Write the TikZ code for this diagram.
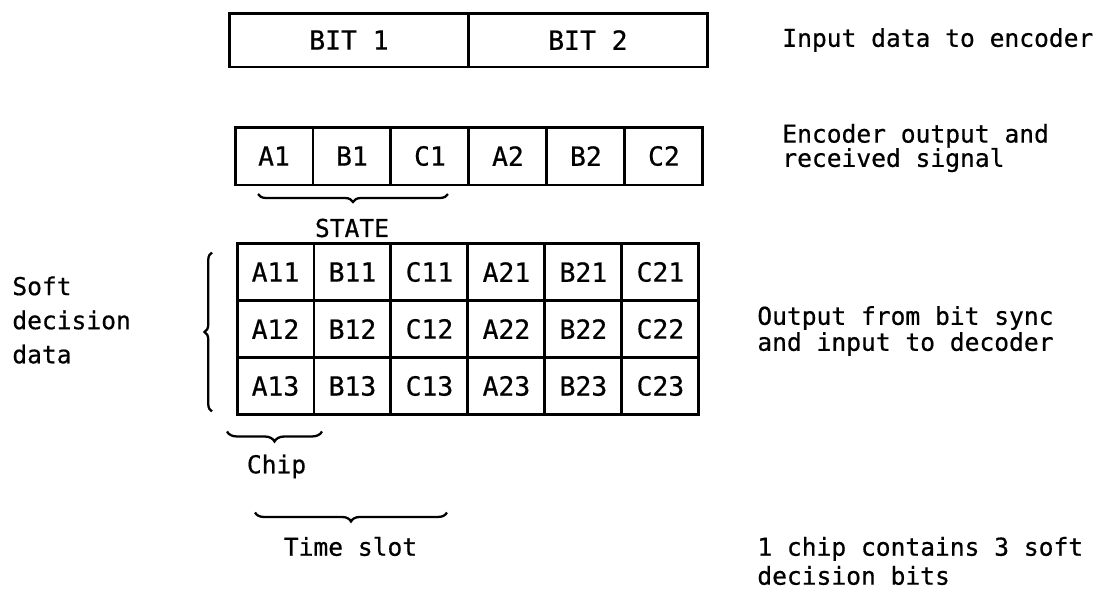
\documentclass[tikz,border=0pt]{standalone}
\usepackage{fontspec}
\setmainfont{DejaVu Sans Mono}[FakeBold=0.6]
\usetikzlibrary{positioning, calc, decorations.pathreplacing}

\begin{document}
\begin{tikzpicture}[
    x=0.02cm, y=-0.02cm,
    font=\fontsize{14}{14}\selectfont,
    bitbox/.style={rectangle, draw, line width=1.7pt, inner sep=0pt, outer sep=0pt,
                   minimum width=4.78cm, minimum height=1.08cm, font=\fontsize{15}{15}\selectfont},
    chipbox/.style={rectangle, draw, line width=1.7pt, inner sep=0pt, outer sep=0pt,
                    minimum width=1.56cm, minimum height=1.16cm, font=\fontsize{15}{15}\selectfont},
    softbox/.style={rectangle, draw, line width=1.7pt, inner sep=0pt, outer sep=0pt,
                    minimum width=1.54cm, minimum height=1.14cm, font=\fontsize{15}{15}\selectfont},
    brc/.style={decorate, decoration={brace, amplitude=#1}, line width=1.3pt},
    brc/.default=0.18cm,
    note/.style={align=left, anchor=west, inner sep=0pt,
                 font=\fontsize{14}{13.8}\selectfont}
  ]
    \useasboundingbox (0,0) rectangle (1116,599);

    % Input bits
    \node[bitbox] (bit1) at (349,40) {BIT 1};
    \node[bitbox, right=0pt of bit1] (bit2) {BIT 2};

    % Encoder output chips
    \node[chipbox] (s1) at (274,156) {A1};
    \node[chipbox, right=0pt of s1] (s2) {B1};
    \node[chipbox, right=0pt of s2] (s3) {C1};
    \node[chipbox, right=0pt of s3] (s4) {A2};
    \node[chipbox, right=0pt of s4] (s5) {B2};
    \node[chipbox, right=0pt of s5] (s6) {C2};

    % Soft decision grid
    \node[softbox] (g11) at (275.5,272) {A11};
    \node[softbox, right=0pt of g11] (g12) {B11};
    \node[softbox, right=0pt of g12] (g13) {C11};
    \node[softbox, right=0pt of g13] (g14) {A21};
    \node[softbox, right=0pt of g14] (g15) {B21};
    \node[softbox, right=0pt of g15] (g16) {C21};
    \node[softbox, below=0pt of g11] (g21) {A12};
    \node[softbox, right=0pt of g21] (g22) {B12};
    \node[softbox, right=0pt of g22] (g23) {C12};
    \node[softbox, right=0pt of g23] (g24) {A22};
    \node[softbox, right=0pt of g24] (g25) {B22};
    \node[softbox, right=0pt of g25] (g26) {C22};
    \node[softbox, below=0pt of g21] (g31) {A13};
    \node[softbox, right=0pt of g31] (g32) {B13};
    \node[softbox, right=0pt of g32] (g33) {C13};
    \node[softbox, right=0pt of g33] (g34) {A23};
    \node[softbox, right=0pt of g34] (g35) {B23};
    \node[softbox, right=0pt of g35] (g36) {C23};

    % Braces
    \draw[brc=0.16cm] ($(s3.south east)+(-21,9)$) -- ($(s1.south west)+(23,9)$);
    \draw[brc=0.15cm] ($(g31.south west)+(-25,-3)$) -- ($(g11.north west)+(-25,9)$);
    \draw[brc=0.2cm] ($(g31.south east)+(8,17)$) -- ($(g31.south west)+(-10,17)$);
    \draw[brc=0.18cm] ($(g33.south east)+(-21,98)$) -- ($(g31.south west)+(18,98)$);

    % Labels
    \node (state) at ($(s2.south)+(0,43)$) {STATE};
    \node (chip) at ($(g31.south)+(1,52)$) {Chip};
    \node (slot) at ($(g32.south)+(-2,132)$) {Time slot};
    \node[note, font=\fontsize{14}{19.4}\selectfont] (soft) at (12,320) {Soft\\decision\\data};
    \node[note] (inp) at (782,40) {Input data to encoder};
    \node[note] (enc) at (782,148) {Encoder output and\\received signal};
    \node[note, font=\fontsize{14}{14.8}\selectfont] (dec) at (757,331) {Output from bit sync\\and input to decoder};
    \node[note, font=\fontsize{14}{16.5}\selectfont] (cnt) at (757,561) {1 chip contains 3 soft\\decision bits};
  \end{tikzpicture}
\end{document}
